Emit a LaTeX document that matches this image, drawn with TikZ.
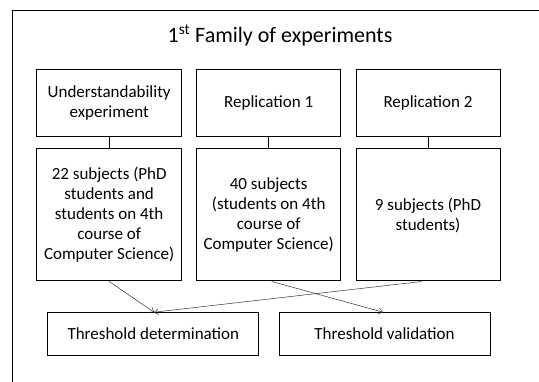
\documentclass[tikz,border=0pt]{standalone}
\usepackage{fontspec}
\setmainfont{Carlito}
\usetikzlibrary{arrows.meta}
\begin{document}
\begin{tikzpicture}[x=1pt,y=-1pt,
  box/.style={draw=black,line width=1pt,inner sep=0pt,align=center,
    font=\fontsize{17}{20}\selectfont},
  link/.style={draw=black,line width=0.8pt},
  flow/.style={draw=black!80,line width=0.5pt,-{Straight Barb[length=4pt,width=6pt]}}]
\useasboundingbox (0,0) rectangle (539,382);
\draw[line width=1pt] (12.3,382) -- (12.3,10.7) -- (539,10.7);
\node[anchor=base,font=\fontsize{22}{26}\selectfont] (title) at (280,42.3) {1\textsuperscript{st} Family of experiments};
\node[box,minimum width=145pt,minimum height=67.4pt] (e1) at (109.2,103) {Understandability\\experiment};
\node[box,minimum width=144pt,minimum height=67.4pt] (e2) at (268.7,103) {Replication 1};
\node[box,minimum width=144pt,minimum height=67.4pt] (e3) at (428,103) {Replication 2};
\node[box,minimum width=145pt,minimum height=132pt] (s1) at (109.2,215) {22 subjects (PhD\\students and\\students on 4th\\course of\\Computer Science)};
\node[box,minimum width=144pt,minimum height=132pt] (s2) at (268.7,215) {40 subjects\\(students on 4th\\course of\\Computer Science)};
\node[box,minimum width=144pt,minimum height=132pt] (s3) at (428,215) {9 subjects (PhD\\students)};
\node[box,minimum width=211.3pt,minimum height=42.6pt] (td) at (153.3,334) {Threshold determination};
\node[box,minimum width=211pt,minimum height=42.6pt] (tv) at (384.5,334) {Threshold validation};
\draw[link] (e1) -- (s1);
\draw[link] (e2) -- (s2);
\draw[link] (e3) -- (s3);
\draw[flow] (s1.south) -- ([xshift=0.7pt]td.north);
\draw[flow] ([xshift=-6.3pt]s3.south) -- ([xshift=0.7pt]td.north);
\draw[flow] ([xshift=3pt]s2.south) -- ([xshift=-1.5pt]tv.north);
\end{tikzpicture}
\end{document}
